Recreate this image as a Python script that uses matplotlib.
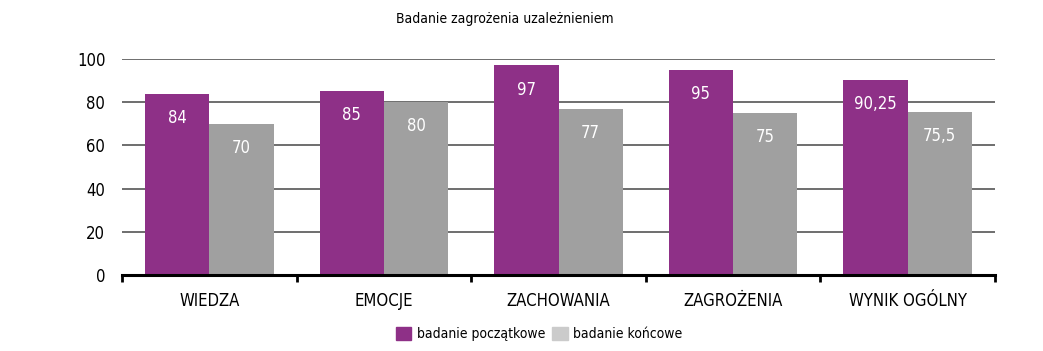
import matplotlib

matplotlib.use("Agg")
import matplotlib.pyplot as plt
import numpy as np
from matplotlib.patches import Patch

categories = ["WIEDZA", "EMOCJE", "ZACHOWANIA", "ZAGROŻENIA", "WYNIK OGÓLNY"]
initial = [84, 85, 97, 95, 90.25]
final = [70, 80, 77, 75, 75.5]
series_names = ["badanie początkowe", "badanie końcowe"]
yticks = [0, 20, 40, 60, 80, 100]

PURPLE = "#8E3087"
GREY = "#A0A0A0"
LEGEND_GREY = "#CBCBCB"

plt.rcParams["font.family"] = ["DejaVu Sans"]
plt.rcParams["font.stretch"] = "condensed"


def fmt(v):
    return f"{v:g}".replace(".", ",")


fig = plt.figure(figsize=(10.43, 3.51), dpi=100)
ax = fig.add_axes([0.117, 0.2165, 0.837, 0.6155])

x = np.arange(len(categories))
w = 0.368
b1 = ax.bar(x - w / 2, initial, w, color=PURPLE, zorder=3)
b2 = ax.bar(x + w / 2, final, w, color=GREY, zorder=3)

for bars, vals in ((b1, initial), (b2, final)):
    for rect, v in zip(bars, vals):
        ax.text(rect.get_x() + rect.get_width() / 2, v - 7, fmt(v),
                ha="center", va="top", color="white", fontsize=12, zorder=4)

ax.set_xlim(-0.5, len(categories) - 0.5)
ax.set_ylim(0, 100)
ax.set_yticks(yticks)
ax.set_yticklabels([str(t) for t in yticks], fontsize=12)
ax.yaxis.grid(True, color="#555555", linewidth=1.2, zorder=0)
ax.tick_params(axis="y", length=0, pad=12)

ax.set_xticks(x)
ax.set_xticklabels(categories, fontsize=12)
ax.set_xticks(np.arange(len(categories) + 1) - 0.5, minor=True)
ax.tick_params(axis="x", which="major", length=0, pad=12)
ax.tick_params(axis="x", which="minor", length=5, width=2, direction="out")

for s in ("top", "right", "left"):
    ax.spines[s].set_visible(False)
ax.spines["bottom"].set_linewidth(2.2)
ax.spines["bottom"].set_zorder(5)

fig.text(0.484, 0.945, "Badanie zagrożenia uzależnieniem", ha="center",
         va="center", fontsize=10)

handles = [Patch(color=PURPLE), Patch(color=LEGEND_GREY)]
fig.legend(handles, series_names, loc="center", bbox_to_anchor=(0.517, 0.048),
           ncol=2, frameon=False, fontsize=10, handlelength=1.1,
           handleheight=1.0, handletextpad=0.4, columnspacing=0.5)

fig.savefig("out.png", dpi=100)
